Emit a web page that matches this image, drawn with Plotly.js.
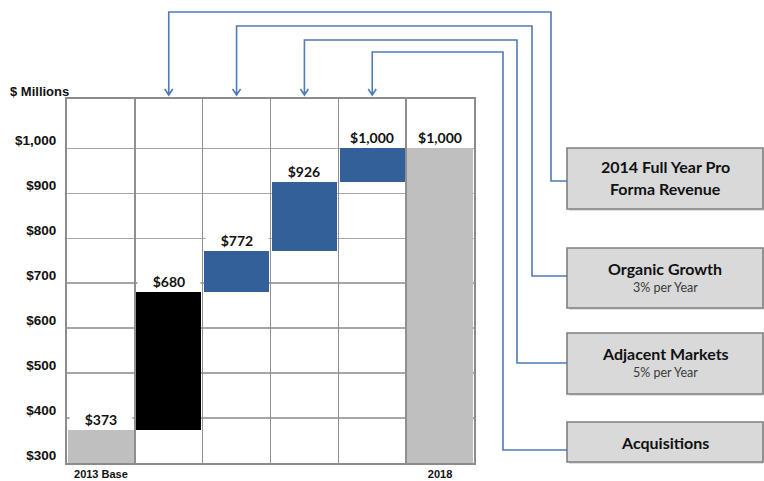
<!DOCTYPE html>
<html>
<head>
<meta charset="utf-8">
<script src="https://cdn.plot.ly/plotly-3.0.1.min.js"></script>
<style>
  html, body { margin: 0; padding: 0; background: #ffffff; }
  #chart { width: 764px; height: 481px; }
</style>
</head>
<body>
<div id="chart"></div>
<script>
// Revenue bridge, $ millions
const tickLabels = ['2013 Base', '', '', '', '', '2018'];
const totals = [373, 680, 772, 926, 1000, 1000];
const stepKind = ['total', 'step', 'step', 'step', 'step', 'total'];
const valueLabels = ['$373', '$680', '$772', '$926', '$1,000', '$1,000'];
const yTicks = [300, 400, 500, 600, 700, 800, 900, 1000];
const yTickText = ['$300', '$400', '$500', '$600', '$700', '$800', '$900', '$1,000'];

// Growth drivers shown in the side panel (each points at its column)
const driverTitles = ['2014 Full Year Pro', 'Organic Growth', 'Adjacent Markets', 'Acquisitions'];
const driverSubtitles = ['Forma Revenue', '', '', ''];
const driverNotes = ['', '3% per Year', '5% per Year', ''];
const driverColumn = [1, 2, 3, 4];

const AXIS_FLOOR = 300;
const Y_RANGE = [300, 1110];
const N = tickLabels.length;

const COLORS = { total: '#bfbfbf', first: '#000000', step: '#34609a' };
const LINK = '#4f7bb6';

// bar geometry: steps float on the previous running total
const xs = totals.map((_, i) => i + 0.5);
const bases = totals.map((t, i) => stepKind[i] === 'total' ? AXIS_FLOOR : totals[i - 1]);
const lengths = totals.map((t, i) => t - bases[i]);
const barColors = stepKind.map((k, i) => k === 'total' ? COLORS.total : (i === 1 ? COLORS.first : COLORS.step));

// page layout (pixels)
const W = 764, H = 481;
const M = { l: 67, r: 290, t: 99, b: 18 };
const PW = W - M.l - M.r, PH = H - M.t - M.b;
const px = x => (x - M.l) / PW;           // pixel x -> paper
const py = y => (H - M.b - y) / PH;       // pixel y -> paper
const dataToPx = x => M.l + x / N * PW;

const boxes = [
  [567, 148, 763, 209],
  [567, 248, 763, 308],
  [567, 333, 763, 394],
  [567, 422, 763, 462]
];
const linkY = [181, 276, 363, 450];
const linkX = [551, 532, 517, 503];
const linkTop = [12, 26, 40, 52];
const ARROW_TIP = 95;

const shapes = [];
const annotations = [];

// side panel boxes
boxes.forEach((b, i) => {
  // soft drop shadow
  shapes.push({
    type: 'rect', xref: 'paper', yref: 'paper', layer: 'above',
    x0: px(b[0] + 2), x1: px(b[2] + 2), y0: py(b[3] + 2), y1: py(b[1] + 2),
    fillcolor: 'rgba(0,0,0,0.12)', line: { width: 0 }
  });
  shapes.push({
    type: 'rect', xref: 'paper', yref: 'paper', layer: 'above',
    x0: px(b[0]), x1: px(b[2]), y0: py(b[3]), y1: py(b[1]),
    fillcolor: '#d9d9d9', line: { color: '#7f7f7f', width: 1.6 }
  });
  const cx = px((b[0] + b[2]) / 2);
  const cy = (b[1] + b[3]) / 2;
  const hasSecond = driverSubtitles[i] || driverNotes[i];
  const titleY = hasSecond ? (driverSubtitles[i] ? cy - 12 : cy - 10) : cy;
  annotations.push({
    xref: 'paper', yref: 'paper', x: cx, y: py(titleY), showarrow: false,
    xanchor: 'center', yanchor: 'middle', text: driverTitles[i],
    font: { family: 'Lato, sans-serif', size: 16, weight: 700, color: '#111111' }
  });
  if (driverSubtitles[i]) {
    annotations.push({
      xref: 'paper', yref: 'paper', x: cx, y: py(cy + 10), showarrow: false,
      xanchor: 'center', yanchor: 'middle', text: driverSubtitles[i],
      font: { family: 'Lato, sans-serif', size: 16, weight: 700, color: '#111111' }
    });
  }
  if (driverNotes[i]) {
    annotations.push({
      xref: 'paper', yref: 'paper', x: cx, y: py(cy + 9), showarrow: false,
      xanchor: 'center', yanchor: 'middle', text: driverNotes[i],
      font: { family: 'Lato, sans-serif', size: 12.5, color: '#3a3a3a' }
    });
  }

  // elbow connector from the box to the top of its column
  const colX = dataToPx(xs[driverColumn[i]]);
  const p = (x, y) => px(x) + ',' + py(y);
  shapes.push({
    type: 'path', xref: 'paper', yref: 'paper', layer: 'above',
    path: 'M' + p(b[0], linkY[i]) + ' L' + p(linkX[i], linkY[i]) +
          ' L' + p(linkX[i], linkTop[i]) + ' L' + p(colX, linkTop[i]) +
          ' L' + p(colX, ARROW_TIP) +
          ' M' + p(colX - 4, ARROW_TIP - 6) + ' L' + p(colX, ARROW_TIP) +
          ' L' + p(colX + 4, ARROW_TIP - 6),
    line: { color: LINK, width: 1.6 }
  });
});

// value labels above each bar, on a white band that masks the gridlines
totals.forEach((t, i) => {
  annotations.push({
    x: xs[i], y: t, xref: 'x', yref: 'y', showarrow: false,
    xanchor: 'center', yanchor: 'bottom', yshift: 1,
    width: 62, height: 18, bgcolor: '#ffffff', borderpad: 0,
    text: valueLabels[i],
    font: { family: 'Lato, sans-serif', size: 14, weight: 700, color: '#111111' }
  });
});

// axis caption
annotations.push({
  xref: 'paper', yref: 'paper', x: px(8), y: py(91), showarrow: false,
  xanchor: 'left', yanchor: 'middle', text: '$ Millions',
  font: { family: 'Liberation Sans, Arial, sans-serif', size: 13, weight: 700, color: '#111111' }
});

const bars = {
  type: 'bar',
  x: xs,
  y: lengths,
  base: bases,
  width: 0.965,
  marker: { color: barColors, line: { width: 0 } },
  hoverinfo: 'skip',
  showlegend: false
};

// column dividers live on an overlaid axis so they sit on integer boundaries
const dividers = {
  type: 'scatter', mode: 'none', x: [0, N], y: Y_RANGE,
  xaxis: 'x2', yaxis: 'y', hoverinfo: 'skip', showlegend: false
};

const tickFont = { family: 'Liberation Sans, Arial, sans-serif', size: 13.5, weight: 700, color: '#111111' };

const layout = {
  width: W, height: H,
  margin: M,
  paper_bgcolor: '#ffffff',
  plot_bgcolor: '#ffffff',
  bargap: 0,
  showlegend: false,
  xaxis: {
    range: [0, N], fixedrange: true,
    tickmode: 'array', tickvals: xs, ticktext: tickLabels,
    ticks: '', ticklabelstandoff: 0,
    tickfont: { family: 'Liberation Sans, Arial, sans-serif', size: 11, weight: 700, color: '#111111' },
    showgrid: false, zeroline: false,
    showline: true, mirror: true, linecolor: '#8c8c8c', linewidth: 2
  },
  xaxis2: {
    overlaying: 'x', range: [0, N], fixedrange: true,
    tickmode: 'linear', tick0: 0, dtick: 1,
    showticklabels: false, ticks: '',
    showgrid: true, gridcolor: '#8f8f8f', gridwidth: 1.6, zeroline: false
  },
  yaxis: {
    range: Y_RANGE, fixedrange: true,
    tickmode: 'array', tickvals: yTicks, ticktext: yTickText,
    ticks: '', ticklabelstandoff: 6, ticklabelshift: -8,
    tickfont: tickFont,
    showgrid: true, gridcolor: '#a6a6a6', gridwidth: 1.6, zeroline: false,
    showline: true, mirror: true, linecolor: '#8c8c8c', linewidth: 2
  },
  shapes: shapes,
  annotations: annotations
};

Plotly.newPlot('chart', [dividers, bars], layout, { displayModeBar: false, staticPlot: true });
</script>
</body>
</html>
